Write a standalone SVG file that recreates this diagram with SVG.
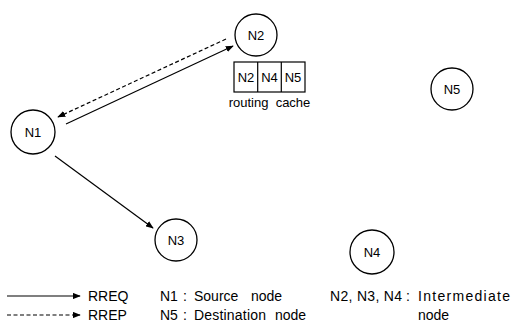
<svg xmlns="http://www.w3.org/2000/svg" width="513" height="323" viewBox="0 0 513 323">
<style>
.n{fill:#fff;stroke:#000;stroke-width:1.3}
.t{font-family:"Liberation Sans",Arial,sans-serif;font-size:13px;fill:#000}
.l{font-size:14px}
.c{text-anchor:middle}
.s{stroke:#000;stroke-width:1.2;fill:none}
.d{stroke-dasharray:4,2.5}
</style>
<defs>
<marker id="ah" viewBox="0 0 10 8" refX="9" refY="4" markerWidth="8" markerHeight="6.4" markerUnits="userSpaceOnUse" orient="auto">
<path d="M0,0 L10,4 L0,8 Z" fill="#000"/>
</marker>
</defs>
<rect width="513" height="323" fill="#fff"/>
<g id="connectors">
<line class="s d" x1="226" y1="39" x2="58" y2="117" marker-end="url(#ah)"/>
<line class="s" x1="66" y1="124" x2="233" y2="46" marker-end="url(#ah)"/>
<line class="s" x1="55" y1="156" x2="153" y2="228" marker-end="url(#ah)"/>
</g>
<g id="N1"><circle class="n" cx="33" cy="132" r="22"/><text class="t c" x="33" y="137">N1</text></g>
<g id="N2"><circle class="n" cx="256" cy="35" r="21"/><text class="t c" x="256" y="40">N2</text></g>
<g id="N3"><circle class="n" cx="176" cy="240" r="21"/><text class="t c" x="176" y="245">N3</text></g>
<g id="N4"><circle class="n" cx="372" cy="252" r="22"/><text class="t c" x="372" y="257">N4</text></g>
<g id="N5"><circle class="n" cx="452" cy="89" r="21"/><text class="t c" x="452" y="94">N5</text></g>
<g id="routing-cache">
<rect class="s" x="234" y="62" width="71" height="30"/>
<line class="s" x1="257.7" y1="62" x2="257.7" y2="92"/>
<line class="s" x1="281.3" y1="62" x2="281.3" y2="92"/>
<text class="t c" x="246" y="82">N2</text>
<text class="t c" x="269.5" y="82">N4</text>
<text class="t c" x="293" y="82">N5</text>
<text class="t c" x="269.5" y="107" xml:space="preserve">routing  cache</text>
</g>
<g id="legend">
<line class="s" x1="7" y1="296" x2="80" y2="296" marker-end="url(#ah)"/>
<line class="s d" x1="7" y1="315" x2="80" y2="315" marker-end="url(#ah)"/>
<text class="t l" x="88" y="301">RREQ</text>
<text class="t l" x="88" y="320">RREP</text>
<text class="t l" x="160" y="301">N1</text>
<text class="t l" x="183" y="301">:</text>
<text class="t l" x="194" y="301">Source</text>
<text class="t l" x="251" y="301">node</text>
<text class="t l" x="160" y="320">N5</text>
<text class="t l" x="183" y="320">:</text>
<text class="t l" x="194" y="320" textLength="72">Destination</text>
<text class="t l" x="275" y="320">node</text>
<text class="t l" x="330" y="301" xml:space="preserve" textLength="72">N2, N3, N4</text>
<text class="t l" x="406" y="301">:</text>
<text class="t l" x="418" y="301" textLength="92" lengthAdjust="spacing">Intermediate</text>
<text class="t l" x="418" y="320">node</text>
</g>
</svg>
